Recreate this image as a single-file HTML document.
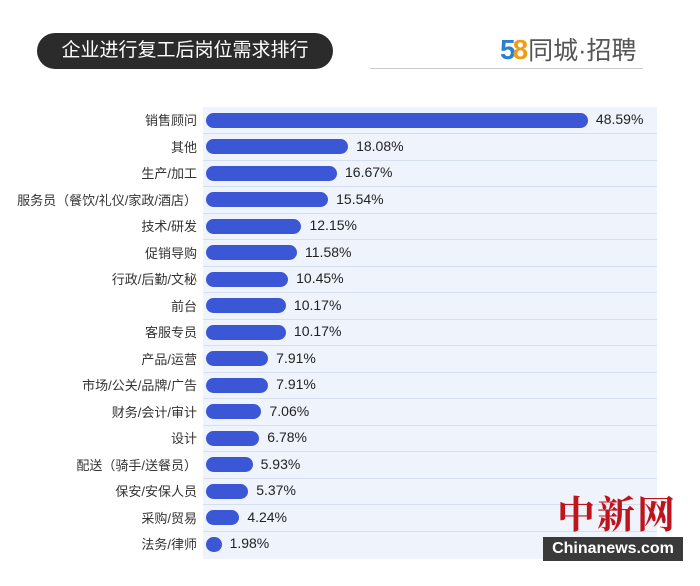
<!DOCTYPE html>
<html><head><meta charset="utf-8"><style>
body{margin:0;width:700px;height:586px;background:#fff;position:relative;overflow:hidden;font-family:"Liberation Sans","Noto Sans CJK SC",sans-serif}
.pill{position:absolute;left:37px;top:33px;width:296px;height:36px;background:#2b2b2b;border-radius:18px;color:#fff;font-size:19px;line-height:36px;text-align:center}
.logo{position:absolute;left:500px;top:34px;font-size:25px;color:#555;line-height:32px}
.hl{position:absolute;left:370px;top:68px;width:273px;height:1px;background:#ccc}
.panel{position:absolute;left:203px;top:107px;width:454px;height:452px;background:#eef3fc}
.lab{position:absolute;right:503px;font-size:13px;color:#333;white-space:nowrap;line-height:18px}
.bar{position:absolute;left:206px;height:15px;background:#3c57d5;border-radius:8px}
.val{position:absolute;font-size:14px;color:#222;line-height:18px}
.sep{position:absolute;left:203px;width:454px;height:1px;background:#d6dff0}
</style></head><body>
<div class="pill">企业进行复工后岗位需求排行</div>
<div class="logo"><b style="color:#2a7fd0;font-size:28px">5</b><b style="color:#f39c12;font-size:28px;margin-left:-3px">8</b>同城·招聘</div>
<div class="hl"></div>
<div class="panel"></div>
<div id="c"></div>
<div style="position:absolute;left:557px;top:484px;font-size:38px;color:#c0141c;font-family:'Noto Serif CJK SC',serif;font-weight:bold;letter-spacing:2px">中新网</div>
<div style="position:absolute;left:543px;top:537px;width:140px;height:24px;background:#3a3a3a;color:#fff;font-weight:bold;font-size:16px;line-height:24px;text-align:center">Chinanews.com</div>
<script>
var d=[["销售顾问",48.59],["其他",18.08],["生产/加工",16.67],["服务员（餐饮/礼仪/家政/酒店）",15.54],["技术/研发",12.15],["促销导购",11.58],["行政/后勤/文秘",10.45],["前台",10.17],["客服专员",10.17],["产品/运营",7.91],["市场/公关/品牌/广告",7.91],["财务/会计/审计",7.06],["设计",6.78],["配送（骑手/送餐员）",5.93],["保安/安保人员",5.37],["采购/贸易",4.24],["法务/律师",1.98]];
var h="";d.forEach(function(r,i){var cy=120+i*26.5;var w=Math.max(15,r[1]*7.86);
h+='<div class="lab" style="top:'+(cy-8)+'px">'+r[0]+'</div><div class="bar" style="top:'+(cy-7.5)+'px;width:'+w+'px"></div><div class="val" style="left:'+(206+w+8)+'px;top:'+(cy-10)+'px">'+r[1].toFixed(2)+'%</div>';
if(i>0)h+='<div class="sep" style="top:'+(cy-13.5)+'px"></div>';});
document.getElementById("c").innerHTML=h;
</script>
</body></html>
